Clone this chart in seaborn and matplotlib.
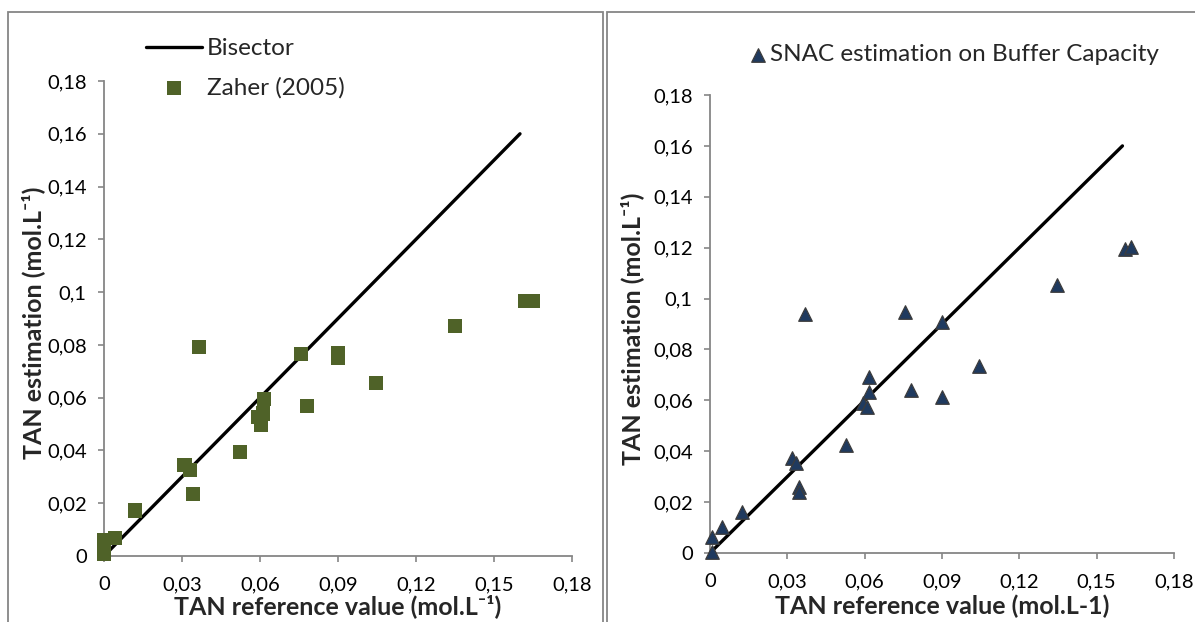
import numpy as np
import pandas as pd
import matplotlib
matplotlib.use("Agg")
import matplotlib.pyplot as plt
from matplotlib.patches import Rectangle
import seaborn as sns

# Reference TAN vs. Zaher (2005) estimation
zaher_ref = [0.0364, 0.0757, 0.0899, 0.0899, 0.1045, 0.1349, 0.1620, 0.1650,
             0.0615, 0.0613, 0.0591, 0.0603, 0.0780, 0.0522, 0.0310, 0.0331,
             0.0341, 0.0118, 0.0041, 0.0, 0.0, 0.0]
zaher_est = [0.0793, 0.0766, 0.0770, 0.0752, 0.0656, 0.0872, 0.0967, 0.0967,
             0.0596, 0.0540, 0.0528, 0.0496, 0.0569, 0.0395, 0.0346, 0.0327,
             0.0235, 0.0172, 0.0069, 0.0060, 0.0030, 0.0008]

# Reference TAN vs. SNAC estimation on buffer capacity
snac_ref = [0.0370, 0.0758, 0.0901, 0.1347, 0.1611, 0.1633, 0.1043, 0.0616,
            0.0618, 0.0595, 0.0608, 0.0779, 0.0901, 0.0527, 0.0317, 0.0334,
            0.0347, 0.0347, 0.0123, 0.0047, 0.0008, 0.0008]
snac_est = [0.0939, 0.0948, 0.0906, 0.1053, 0.1193, 0.1204, 0.0735, 0.0690,
            0.0634, 0.0591, 0.0575, 0.0640, 0.0612, 0.0424, 0.0372, 0.0355,
            0.0258, 0.0241, 0.0160, 0.0103, 0.0064, 0.0005]

bisector = [0.0, 0.16]

x_ticks = [0, 0.03, 0.06, 0.09, 0.12, 0.15, 0.18]
x_labels = ["0", "0,03", "0,06", "0,09", "0,12", "0,15", "0,18"]
y_ticks = [0, 0.02, 0.04, 0.06, 0.08, 0.10, 0.12, 0.14, 0.16, 0.18]
y_labels = ["0", "0,02", "0,04", "0,06", "0,08", "0,1", "0,12", "0,14", "0,16", "0,18"]

sns.set_theme(style="white")
FONT = ["Lato", "DejaVu Sans"]
plt.rcParams["font.family"] = FONT

W, H = 1195, 622
GREY = "#868686"
GREEN = "#4F6228"
NAVY = "#1F3A5F"

fig = plt.figure(figsize=(W / 100, H / 100), dpi=100)

# panel frames
fig.patches.append(Rectangle((8 / W, -0.05), (603 - 8) / W, 1.05 - 12 / H,
                             transform=fig.transFigure, fill=False,
                             edgecolor=GREY, lw=1.3))
fig.patches.append(Rectangle((607 / W, -0.05), 0.6, 1.05 - 12 / H,
                             transform=fig.transFigure, fill=False,
                             edgecolor=GREY, lw=1.3))

ax1 = fig.add_axes([104 / W, 1 - 556 / H, (572 - 104) / W, (556 - 81) / H])
ax2 = fig.add_axes([710 / W, 1 - 553 / H, (1174 - 710) / W, (553 - 95) / H])

bis_df = pd.DataFrame({"x": bisector, "y": bisector})
left_df = pd.DataFrame({"ref": zaher_ref, "est": zaher_est})
right_df = pd.DataFrame({"ref": snac_ref, "est": snac_est})

sns.lineplot(data=bis_df, x="x", y="y", ax=ax1, color="black", lw=2.4,
             label="Bisector", zorder=3)
sns.scatterplot(data=left_df, x="ref", y="est", ax=ax1, marker="s", s=105,
                color=GREEN, edgecolor="none", label="Zaher (2005)",
                clip_on=False, zorder=4)

sns.lineplot(data=bis_df, x="x", y="y", ax=ax2, color="black", lw=2.4,
             zorder=3, legend=False)
sns.scatterplot(data=right_df, x="ref", y="est", ax=ax2, marker="^", s=95,
                color=NAVY, edgecolor="#3C3C3C", linewidth=0.9,
                label="SNAC estimation on Buffer Capacity",
                clip_on=False, zorder=4)

for ax in (ax1, ax2):
    ax.set_xlim(0, 0.18)
    ax.set_ylim(0, 0.18)
    ax.set_xticks(x_ticks)
    ax.set_xticklabels(x_labels)
    ax.set_yticks(y_ticks)
    ax.set_yticklabels(y_labels)
    for side in ("top", "right"):
        ax.spines[side].set_visible(False)
    for side in ("left", "bottom"):
        ax.spines[side].set_color(GREY)
        ax.spines[side].set_linewidth(1.3)
    ax.tick_params(axis="both", which="major", direction="out", length=4.5,
                   width=1.2, color=GREY, labelsize=14.5, labelcolor="black",
                   left=True, bottom=True)
    ax.tick_params(axis="x", pad=10)
    ax.tick_params(axis="y", pad=8)
    ax.set_facecolor("none")

LBL = dict(fontsize=18, fontweight="bold")
ax1.set_xlabel("TAN reference value (mol.L\u207b\u00b9)", va="center", **LBL)
ax1.xaxis.set_label_coords(0.5, -(606 - 556) / (556 - 81))
ax1.set_ylabel("TAN estimation (mol.L\u207b\u00b9)", va="center", **LBL)
ax1.yaxis.set_label_coords(-(104 - 33) / (572 - 104), 0.49)

ax2.set_xlabel("TAN reference value (mol.L-1)", va="center", **LBL)
ax2.xaxis.set_label_coords(0.5, -(606 - 553) / (553 - 95))
ax2.set_ylabel("TAN estimation (mol.L\u207b\u00b9)", va="center", **LBL)
ax2.yaxis.set_label_coords(-(710 - 632) / (1174 - 710), 0.49)

ax1.legend(loc="upper left", bbox_to_anchor=(146 / W, 1 - 38 / H),
           bbox_transform=fig.transFigure, frameon=False, fontsize=17.5,
           handlelength=2.3, handletextpad=0.2, labelspacing=0.75,
           borderpad=0, borderaxespad=0)
ax2.legend(loc="upper left", bbox_to_anchor=(748 / W, 1 - 44 / H),
           bbox_transform=fig.transFigure, frameon=False, fontsize=17.5,
           handlelength=0.8, handletextpad=0.1, borderpad=0, borderaxespad=0)

fig.savefig("out.png", dpi=100)
